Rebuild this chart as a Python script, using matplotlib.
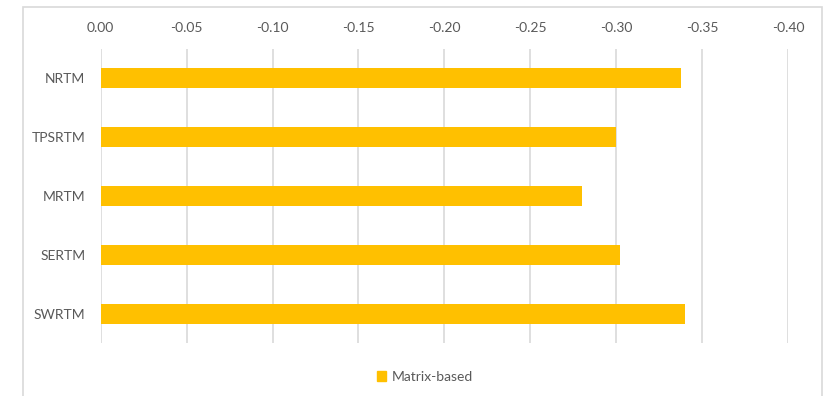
import matplotlib
matplotlib.use("Agg")
from matplotlib import pyplot as plt
from matplotlib.patches import Rectangle, Patch

methods = ["NRTM", "TPSRTM", "MRTM", "SERTM", "SWRTM"]
matrix_based = [-0.338, -0.300, -0.280, -0.302, -0.340]
xticks = [0.00, -0.05, -0.10, -0.15, -0.20, -0.25, -0.30, -0.35, -0.40]

bar_color = "#FFC000"
text_color = "#595959"
grid_color = "#D9D9D9"

plt.rcParams["font.family"] = ["Lato", "DejaVu Sans"]

fig = plt.figure(figsize=(8.27, 3.96), dpi=100)
fig.patches.append(Rectangle((0.028, -0.05), 0.966, 1.032, transform=fig.transFigure,
                             fill=False, edgecolor=grid_color, linewidth=1.2))

ax = fig.add_axes([0.1218, 0.1338, 0.831, 0.7424])
ypos = list(range(len(methods)))
ax.barh(ypos, matrix_based, height=0.34, color=bar_color, zorder=3)

ax.set_xlim(0, -0.40)
ax.set_ylim(len(methods) - 0.5, -0.5)
ax.set_xticks(xticks)
ax.set_xticklabels(["%.2f" % v for v in xticks])
ax.set_yticks(ypos)
ax.set_yticklabels(methods)
ax.xaxis.tick_top()
ax.tick_params(axis="x", length=0, pad=11, labelsize=10, labelcolor=text_color)
ax.tick_params(axis="y", length=0, pad=11, labelsize=10, labelcolor=text_color)
ax.grid(axis="x", color=grid_color, linewidth=1.2, zorder=0)
for s in ax.spines.values():
    s.set_visible(False)

fig.legend(handles=[Patch(color=bar_color, label="Matrix-based")],
           loc="center", bbox_to_anchor=(425 / 827, 1 - 377 / 396),
           frameon=False, fontsize=10, labelcolor=text_color,
           handlelength=0.7, handleheight=0.7, handletextpad=0.4)

fig.savefig("out.png", dpi=100)
